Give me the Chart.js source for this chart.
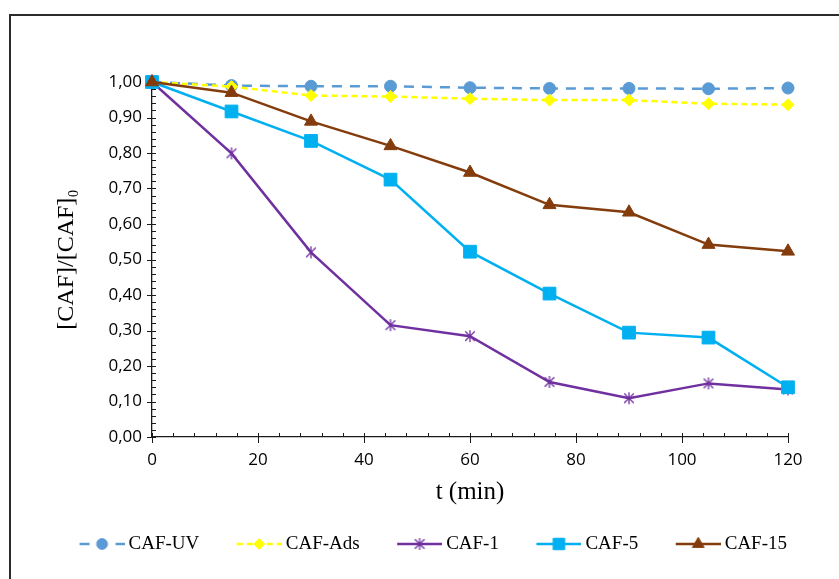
<!DOCTYPE html>
<html>
<head>
<meta charset="utf-8">
<script src="https://cdn.jsdelivr.net/npm/chart.js@4.4.1/dist/chart.umd.min.js"></script>
<style>
  html, body { margin: 0; padding: 0; background: #fff; overflow: hidden; }
  #frame { position: absolute; left: 9px; top: 14px; width: 1000px; height: 1000px; border: 2px solid #2b2b2b; }
  #chart { position: absolute; left: 0; top: 0; }
</style>
</head>
<body>
<div id="frame"></div>
<canvas id="chart" width="839" height="579"></canvas>
<script>
// sampling times (min)
var times = [0, 15, 30, 45, 60, 75, 90, 105, 120];

// [CAF]/[CAF]0
var cafUV  = [1.00, 0.990, 0.988, 0.988, 0.984, 0.982, 0.982, 0.981, 0.983];
var cafAds = [1.00, 0.987, 0.962, 0.959, 0.953, 0.949, 0.949, 0.939, 0.936];
var caf1   = [1.00, 0.799, 0.520, 0.315, 0.284, 0.155, 0.109, 0.151, 0.134];
var caf5   = [1.00, 0.917, 0.834, 0.725, 0.522, 0.404, 0.294, 0.280, 0.140];
var caf15  = [1.00, 0.970, 0.889, 0.820, 0.745, 0.654, 0.633, 0.542, 0.523];

function points(values) {
    return times.map(function (t, i) { return { x: t, y: values[i] }; });
}

function fmt(v) {
    return v.toFixed(2).replace('.', ',');
}

// Excel style star marker: vertical bar plus an X
function starMarker(color) {
    var c = document.createElement('canvas');
    c.width = 14; c.height = 14;
    var g = c.getContext('2d');
    g.strokeStyle = color;
    g.lineWidth = 1.3;
    g.beginPath();
    g.moveTo(7, 1); g.lineTo(7, 13);
    g.moveTo(2.2, 2.2); g.lineTo(11.8, 11.8);
    g.moveTo(11.8, 2.2); g.lineTo(2.2, 11.8);
    g.stroke();
    return c;
}

var datasets = [
    { label: 'CAF-UV', data: points(cafUV), borderColor: '#5B9BD5', backgroundColor: '#5B9BD5',
      borderDash: [10, 8], pointStyle: 'circle', pointRadius: 6, order: 5 },
    { label: 'CAF-Ads', data: points(cafAds), borderColor: '#FFFF00', backgroundColor: '#FFFF00',
      borderDash: [6, 4], pointStyle: 'rectRot', pointRadius: 6, order: 4 },
    { label: 'CAF-1', data: points(caf1), borderColor: '#7030A0', backgroundColor: '#7030A0',
      pointStyle: starMarker('#7030A0'), pointRadius: 6, order: 3 },
    { label: 'CAF-5', data: points(caf5), borderColor: '#00B0F0', backgroundColor: '#00B0F0',
      pointStyle: 'rect', pointRadius: 9, order: 2 },
    { label: 'CAF-15', data: points(caf15), borderColor: '#843C0C', backgroundColor: '#843C0C',
      pointStyle: 'triangle', pointRadius: 7.5, order: 1 }
];
datasets.forEach(function (ds) {
    ds.borderWidth = 2.5;
    ds.pointBorderColor = ds.borderColor;
    ds.pointBackgroundColor = ds.borderColor;
    ds.pointBorderWidth = 1;
    ds.tension = 0;
    ds.clip = false;
});

// legend sample: line + marker, with transparent room on the left for spacing
function legendSample(ds) {
    var c = document.createElement('canvas');
    c.width = 78; c.height = 20;
    var g = c.getContext('2d');
    g.strokeStyle = ds.borderColor;
    g.fillStyle = ds.borderColor;
    g.lineWidth = ds.borderWidth;
    g.setLineDash(ds.borderDash || []);
    g.beginPath(); g.moveTo(33, 10); g.lineTo(78, 10); g.stroke();
    g.setLineDash([]);
    g.lineWidth = 1;
    Chart.helpers.drawPoint(g, { pointStyle: ds.pointStyle, radius: ds.pointRadius * 0.9, borderWidth: 1, rotation: 0 }, 55.5, 10);
    return c;
}
var samples = datasets.map(legendSample);

// major ticks cross the axis, minor ticks inside
var axisTicks = {
    id: 'axisTicks',
    beforeDatasetsDraw: function (chart) {
        var ctx = chart.ctx, xs = chart.scales.x, ys = chart.scales.y;
        var x0 = xs.getPixelForValue(0), y0 = ys.getPixelForValue(0);
        ctx.save();
        ctx.strokeStyle = '#1a1a1a';
        ctx.lineWidth = 1;
        ctx.beginPath();
        for (var t = 0; t <= 120; t += 4) {
            var px = Math.round(xs.getPixelForValue(t)) + 0.5;
            ctx.moveTo(px, y0 - 4);
            ctx.lineTo(px, y0 + (t % 20 === 0 ? 6 : 0));
        }
        for (var k = 0; k <= 50; k++) {
            var py = Math.round(ys.getPixelForValue(k * 0.02)) + 0.5;
            ctx.moveTo(x0 + 4, py);
            ctx.lineTo(x0 - (k % 5 === 0 ? 5 : 0), py);
        }
        ctx.stroke();
        ctx.restore();
    }
};

var tickFont = { family: 'Open Sans', size: 17 };

new Chart(document.getElementById('chart'), {
    type: 'line',
    data: { datasets: datasets },
    plugins: [axisTicks],
    options: {
        responsive: false,
        animation: false,
        events: [],
        layout: { padding: { left: 0, right: 0, top: 82, bottom: 15.5 } },
        scales: {
            x: {
                type: 'linear', min: 0, max: 120,
                ticks: { stepSize: 20, padding: 13, color: '#000', font: tickFont },
                grid: { display: false, drawTicks: false },
                border: { color: '#1a1a1a', width: 1.3 },
                title: { display: true, text: 't (min)', color: '#000',
                         font: { family: 'Liberation Serif', size: 25 }, padding: { top: 0, bottom: 17.5 } },
                afterFit: function (s) { s.height = 87.5; }
            },
            y: {
                min: 0, max: 1,
                ticks: { stepSize: 0.1, padding: 10, color: '#000', font: tickFont,
                         callback: function (v) { return fmt(v); } },
                grid: { display: false, drawTicks: false },
                border: { color: '#1a1a1a', width: 1.3 },
                title: { display: true, text: '[CAF]/[CAF]\u2080', color: '#000',
                         font: { family: 'Liberation Serif', size: 24 }, padding: { top: 52.6, bottom: 0 } },
                afterFit: function (s) { s.width = 152; }
            },
            // empty right-hand strip so the plot ends where the original does
            pad: {
                type: 'linear', position: 'right',
                ticks: { display: false },
                grid: { display: false, drawTicks: false },
                border: { display: false },
                afterFit: function (s) { s.width = 51; }
            }
        },
        plugins: {
            tooltip: { enabled: false },
            legend: {
                position: 'bottom',
                labels: {
                    usePointStyle: true,
                    pointStyleWidth: 67,
                    padding: 10,
                    color: '#000',
                    font: { family: 'Liberation Serif', size: 19 },
                    generateLabels: function (chart) {
                        return chart.data.datasets.map(function (ds, i) {
                            return { text: ds.label, pointStyle: samples[i], datasetIndex: i,
                                     fillStyle: 'rgba(0,0,0,0)', strokeStyle: 'rgba(0,0,0,0)',
                                     lineWidth: 0, hidden: false, fontColor: '#000' };
                        });
                    }
                }
            }
        }
    }
});
</script>
</body>
</html>
